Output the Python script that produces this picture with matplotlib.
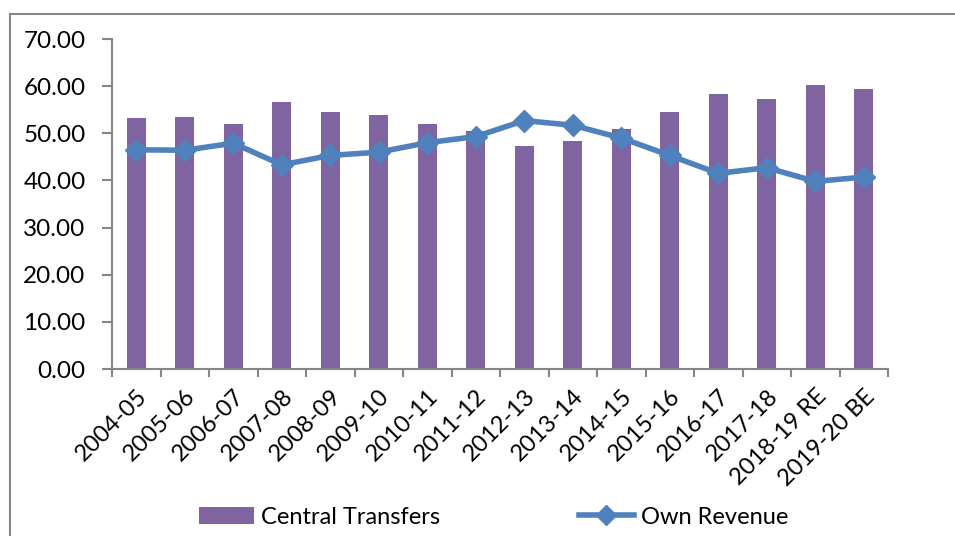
import numpy as np
import matplotlib
matplotlib.use("Agg")
from matplotlib import pyplot
from matplotlib.lines import Line2D
from matplotlib.patches import Patch, Rectangle

years = ["2004-05", "2005-06", "2006-07", "2007-08", "2008-09", "2009-10",
         "2010-11", "2011-12", "2012-13", "2013-14", "2014-15", "2015-16",
         "2016-17", "2017-18", "2018-19 RE", "2019-20 BE"]
central_transfers = [53.3, 53.5, 52.0, 56.7, 54.6, 53.8, 52.0, 50.5,
                     47.3, 48.3, 51.0, 54.6, 58.4, 57.3, 60.2, 59.3]
own_revenue = [46.5, 46.4, 47.9, 43.3, 45.3, 46.0, 48.0, 49.3,
               52.7, 51.7, 49.0, 45.3, 41.5, 42.7, 39.8, 40.7]
y_ticks = [0, 10, 20, 30, 40, 50, 60, 70]

pyplot.rcParams['font.family'] = ['Lato', 'DejaVu Sans']
purple = "#8064A2"
blue = "#4F81BD"
grey = "#868686"

fig = pyplot.figure(figsize=(9.55, 5.36), dpi=100)
# 外枠（左と上のみ見える）
fig.patches.append(Rectangle((9.5 / 955, -0.1), 1.2, 1.1 - 14 / 536,
                             transform=fig.transFigure, fill=False,
                             edgecolor=grey, linewidth=1.5))

ax = fig.add_axes([112 / 955, 1 - 369 / 536, 776 / 955, 330 / 536])
x = np.arange(len(years))
ax.bar(x, central_transfers, width=0.4, color=purple, zorder=2)
ax.plot(x, own_revenue, color=blue, linewidth=4, marker="D",
        markersize=11, zorder=3)

ax.set_xlim(-0.5, len(years) - 0.5)
ax.set_ylim(0, 70)
ax.set_yticks(y_ticks)
ax.set_yticklabels([f"{v:.2f}" for v in y_ticks], fontsize=17.5)
ax.set_xticks(x)
ax.set_xticklabels(years, rotation=45, ha="right", rotation_mode="anchor",
                   fontsize=17)
ax.tick_params(axis="x", length=0, pad=12)
ax.set_xticks(np.arange(-0.5, len(years)), minor=True)
ax.tick_params(axis="x", which="minor", length=6, color=grey, width=1.5)
ax.tick_params(axis="y", length=7, color=grey, width=1.5, pad=12)

for side in ["top", "right"]:
    ax.spines[side].set_visible(False)
for side in ["left", "bottom"]:
    ax.spines[side].set_color(grey)
    ax.spines[side].set_linewidth(1.5)

handles = [Patch(facecolor=purple, label="Central Transfers"),
           Line2D([0], [0], color=blue, linewidth=4, marker="D",
                  markersize=10, label="Own Revenue")]
fig.legend(handles=handles, loc="center", bbox_to_anchor=(0.517, 1 - 517 / 536),
           ncol=2, frameon=False, fontsize=17, columnspacing=5.9,
           handlelength=2.3, handletextpad=0.3)

pyplot.savefig("out.png", dpi=100)
pyplot.close(fig)
